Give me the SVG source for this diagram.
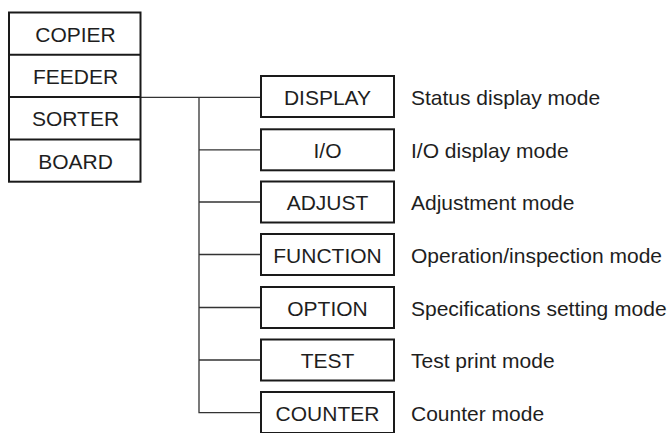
<svg xmlns="http://www.w3.org/2000/svg" width="671" height="433" viewBox="0 0 671 433">
<style>
.box{fill:#fff;stroke:#1a1a1a;stroke-width:2}
.t{font-family:"Liberation Sans",Arial,sans-serif;font-size:21px;fill:#1e1e1e}
.c{text-anchor:middle}
.ln{stroke:#333;stroke-width:1.3;fill:none}
.div{stroke:#1a1a1a;stroke-width:2}
</style>
<rect width="671" height="433" fill="#fff"/>
<g id="connectors">
<path class="ln" d="M140.5 97.3H261M199 97.3V412.7H261M199 149.8H261M199 202H261M199 254.5H261M199 307.5H261M199 360H261"/>
</g>
<g id="unit-stack">
<rect class="box" x="9" y="12.5" width="131.5" height="169.2"/>
<line class="div" x1="9" y1="54.8" x2="140.5" y2="54.8"/>
<line class="div" x1="9" y1="97.1" x2="140.5" y2="97.1"/>
<line class="div" x1="9" y1="139.4" x2="140.5" y2="139.4"/>
<text class="t c" x="75.5" y="41.7">COPIER</text>
<text class="t c" x="75.5" y="84">FEEDER</text>
<text class="t c" x="75.5" y="126.3">SORTER</text>
<text class="t c" x="75.5" y="168.6">BOARD</text>
</g>
<g id="display"><rect class="box" x="261" y="76" width="133" height="41"/><text class="t c" x="327.5" y="105">DISPLAY</text><text class="t" x="411" y="105">Status display mode</text></g>
<g id="io"><rect class="box" x="261" y="129.3" width="133" height="41"/><text class="t c" x="327.5" y="158">I/O</text><text class="t" x="411" y="158">I/O display mode</text></g>
<g id="adjust"><rect class="box" x="261" y="181.5" width="133" height="41"/><text class="t c" x="327.5" y="210.2">ADJUST</text><text class="t" x="411" y="210.2">Adjustment mode</text></g>
<g id="function"><rect class="box" x="261" y="234" width="133" height="41"/><text class="t c" x="327.5" y="262.7">FUNCTION</text><text class="t" x="411" y="262.7">Operation/inspection mode</text></g>
<g id="option"><rect class="box" x="261" y="287" width="133" height="41"/><text class="t c" x="327.5" y="315.7">OPTION</text><text class="t" x="411" y="315.7">Specifications setting mode</text></g>
<g id="test"><rect class="box" x="261" y="339.5" width="133" height="41"/><text class="t c" x="327.5" y="368.2">TEST</text><text class="t" x="411" y="368.2">Test print mode</text></g>
<g id="counter"><rect class="box" x="261" y="392" width="133" height="41"/><text class="t c" x="327.5" y="420.7">COUNTER</text><text class="t" x="411" y="420.7">Counter mode</text></g>
</svg>
